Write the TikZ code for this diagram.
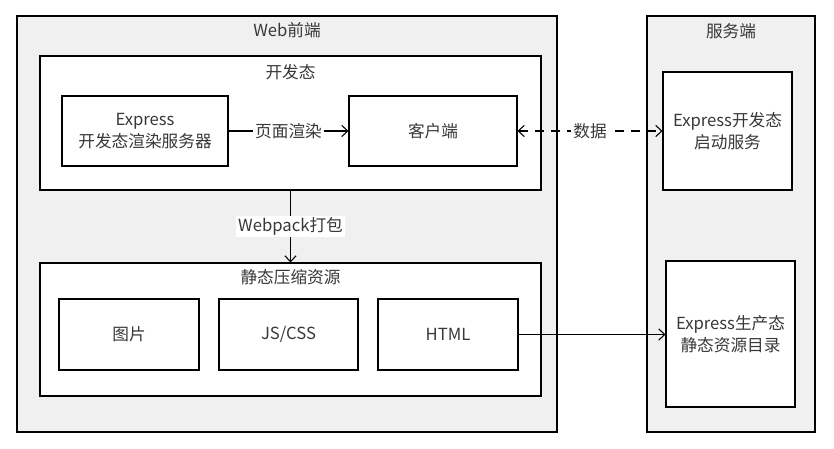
\documentclass[tikz,border=0pt]{standalone}
\usepackage{fontspec}
\usepackage{tikz}
\usetikzlibrary{arrows.meta, positioning, calc}
\newfontfamily\cjk{Noto Sans CJK SC}

\begin{document}
\begin{tikzpicture}[x=0.75pt, y=-0.75pt, >={Straight Barb[length=4.5pt, width=8.5pt]},
    font=\cjk\fontsize{12.5}{17}\selectfont, text=black!78,
    group/.style={draw, line width=0.8pt, fill=black!6, inner sep=0pt},
    panel/.style={draw, line width=0.8pt, fill=white, inner sep=0pt},
    unit/.style={draw, line width=0.8pt, fill=white, align=center, inner sep=0pt},
    title/.style={inner sep=1pt},
    flow/.style={line width=0.8pt, draw=black},
    tag/.style={fill=white, inner sep=1.5pt}]
    \useasboundingbox (0,0) rectangle (834,449);

    % Web frontend group
    \node[group, minimum width=405pt, minimum height=312pt] (web) at (287,224) {};
    \node[title] (webtitle) at (287,30) {Web前端};

    % Server group
    \node[group, minimum width=126pt, minimum height=312pt] (server) at (731,224) {};
    \node[title] (servertitle) at (731,31) {服务端};

    % Development panel
    \node[panel, minimum width=375.75pt, minimum height=100.5pt] (dev) at (290.5,123) {};
    \node[title] (devtitle) at (290.5,72) {开发态};

    % Express dev render server and client
    \node[unit, minimum width=124.5pt, minimum height=52.5pt] (express) at (145,131) {Express\\开发态渲染服务器};
    \node[unit, minimum width=126pt, minimum height=52.5pt] (client) at (433,131) {客户端};

    % Static compressed resources panel
    \node[panel, minimum width=375.75pt, minimum height=99.75pt] (static) at (290.5,329.5) {};
    \node[title] (statictitle) at (290.5,277) {静态压缩资源};

    % Static resources
    \node[unit, minimum width=105pt, minimum height=53.25pt] (img) at (129,334.5) {图片};
    \node[unit, minimum width=104.25pt, minimum height=53.25pt] (jscss) at (288.5,334.5) {JS/CSS};
    \node[unit, minimum width=105pt, minimum height=53.25pt] (html) at (448,334.5) {HTML};

    % Server side units
    \node[unit, minimum width=96.75pt, minimum height=88.5pt] (sdev) at (727.5,131) {Express开发态\\启动服务};
    \node[unit, minimum width=96.75pt, minimum height=109.5pt] (sprod) at (730.5,334) {Express生产态\\静态资源目录};

    % Arrow: render server to client
    \draw[->, flow] (express.east) -- node[tag] {页面渲染} (client.west);

    % Arrow: client to server data (dashed, both ways)
    \draw[<->, flow, dash pattern=on 7pt off 5pt] (client.east) -- node[tag] {数据} (sdev.west);

    % Arrow: webpack build
    \draw[->, flow] (dev.south) -- node[tag] {Webpack打包} (static.north);

    % Arrow: html to production server
    \draw[->, flow] (html.east) -- (html.east -| sprod.west);
\end{tikzpicture}
\end{document}
